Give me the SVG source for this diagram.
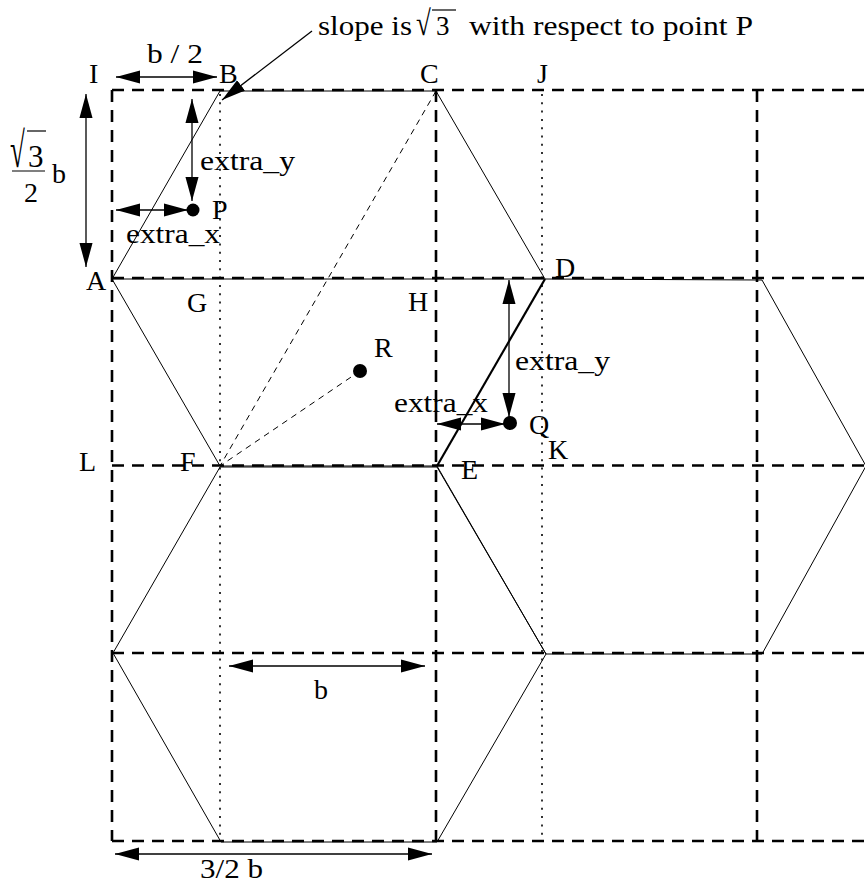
<svg xmlns="http://www.w3.org/2000/svg" width="865" height="888" viewBox="0 0 865 888">
<style>
text{font-family:"Liberation Serif","Times New Roman",serif;font-size:28px;fill:#000}
.w{font-size:27px}
.grid{stroke:#000;stroke-width:2.6;stroke-dasharray:12 8;fill:none}
.dot{stroke:#000;stroke-width:1.6;stroke-dasharray:2 6.3;fill:none}
.hex{stroke:#000;stroke-width:1;fill:none}
.thin{stroke:#000;stroke-width:1;stroke-dasharray:6 5;fill:none}
.arr{stroke:#000;stroke-width:1.3;fill:none;marker-start:url(#ah);marker-end:url(#ah)}
</style>
<defs>
<marker id="ah" markerUnits="userSpaceOnUse" markerWidth="24" markerHeight="14" refX="22" refY="6" orient="auto-start-reverse" viewBox="0 0 22 12">
<path d="M0,0 L22,6 L0,12 z" fill="#000"/>
</marker>
</defs>
<g id="grid">
<line class="grid" x1="112" y1="90" x2="865" y2="90"/>
<line class="grid" x1="112" y1="278" x2="865" y2="278"/>
<line class="grid" x1="112" y1="465.5" x2="865" y2="465.5"/>
<line class="grid" x1="112" y1="653" x2="865" y2="653"/>
<line class="grid" x1="112" y1="841" x2="865" y2="841"/>
<line class="grid" x1="112" y1="90" x2="112" y2="841"/>
<line class="grid" x1="436" y1="90" x2="436" y2="841"/>
<line class="grid" x1="757" y1="90" x2="757" y2="841"/>
<line class="dot" x1="220" y1="94" x2="220" y2="841"/>
<line class="dot" x1="542" y1="94" x2="542" y2="841"/>
</g>
<g id="hexagons">
<polyline class="hex" points="544,279 112,279 220,91 436,91 545,279"/>
<polyline class="hex" points="112,279 220,466 437,466"/>
<polyline class="hex" points="545,279 762,280 866,466 762,654 546,654 437,466"/>
<polyline class="hex" points="220,467 437,467 546,654 437,842 221,842 113,653 220,467"/>
<line x1="545" y1="279" x2="437" y2="466" stroke="#000" stroke-width="2.2"/>
<line class="thin" x1="436" y1="91" x2="220" y2="466"/>
<line class="thin" x1="360" y1="371" x2="220" y2="466"/>
</g>
<g id="points">
<circle cx="193" cy="210" r="6.5" fill="#000"/>
<circle cx="360" cy="371" r="7" fill="#000"/>
<circle cx="510" cy="423" r="7" fill="#000"/>
</g>
<g id="connectors">
<line class="arr" x1="116" y1="77" x2="217" y2="77"/>
<line class="arr" x1="86" y1="94" x2="86" y2="267"/>
<line class="arr" x1="192" y1="99" x2="192" y2="201"/>
<line class="arr" x1="116" y1="210" x2="188" y2="210"/>
<line class="arr" x1="509" y1="280" x2="509" y2="417"/>
<line class="arr" x1="437" y1="424" x2="505" y2="424"/>
<line class="arr" x1="229" y1="666" x2="425" y2="666"/>
<line class="arr" x1="115" y1="854" x2="432" y2="854"/>
<line x1="312" y1="31" x2="222" y2="100" stroke="#000" stroke-width="1.3" marker-end="url(#ah)"/>
</g>
<g id="labels">
<text class="w" x="318" y="35" textLength="94" lengthAdjust="spacingAndGlyphs">slope is</text>
<text class="w" transform="translate(416,35) scale(1,1.3)">√</text>
<line x1="432" y1="10" x2="456" y2="10" stroke="#000" stroke-width="1.2"/>
<text class="w" x="436" y="35">3</text>
<text class="w" x="469" y="35" textLength="284" lengthAdjust="spacingAndGlyphs">with respect to point P</text>
<text x="89" y="83">I</text>
<text class="w" x="147" y="63" textLength="56" lengthAdjust="spacingAndGlyphs">b / 2</text>
<text x="219" y="83">B</text>
<text x="420" y="83">C</text>
<text x="537" y="83">J</text>
<text x="86" y="290">A</text>
<text x="187" y="312">G</text>
<text x="408" y="311">H</text>
<text x="555" y="277">D</text>
<text x="374" y="357">R</text>
<text x="529" y="434">Q</text>
<text x="548" y="459">K</text>
<text x="461" y="479">E</text>
<text x="180" y="471">F</text>
<text x="79" y="471">L</text>
<text x="212" y="219">P</text>
<text class="w" x="200" y="170" textLength="95" lengthAdjust="spacingAndGlyphs">extra_y</text>
<text class="w" x="126" y="243" textLength="94" lengthAdjust="spacingAndGlyphs">extra_x</text>
<text class="w" x="515" y="370" textLength="95" lengthAdjust="spacingAndGlyphs">extra_y</text>
<text class="w" x="394" y="412" textLength="94" lengthAdjust="spacingAndGlyphs">extra_x</text>
<text x="314" y="699">b</text>
<text class="w" x="200" y="878" textLength="63" lengthAdjust="spacingAndGlyphs">3/2 b</text>
<text class="w" transform="translate(10,167) scale(1,1.85)">√</text>
<line x1="27" y1="131" x2="46" y2="131" stroke="#000" stroke-width="1.2"/>
<text x="28" y="167" style="font-size:31px">3</text>
<line x1="12" y1="171" x2="45" y2="171" stroke="#000" stroke-width="1.2"/>
<text x="24" y="202">2</text>
<text x="52" y="183">b</text>
</g>
</svg>
